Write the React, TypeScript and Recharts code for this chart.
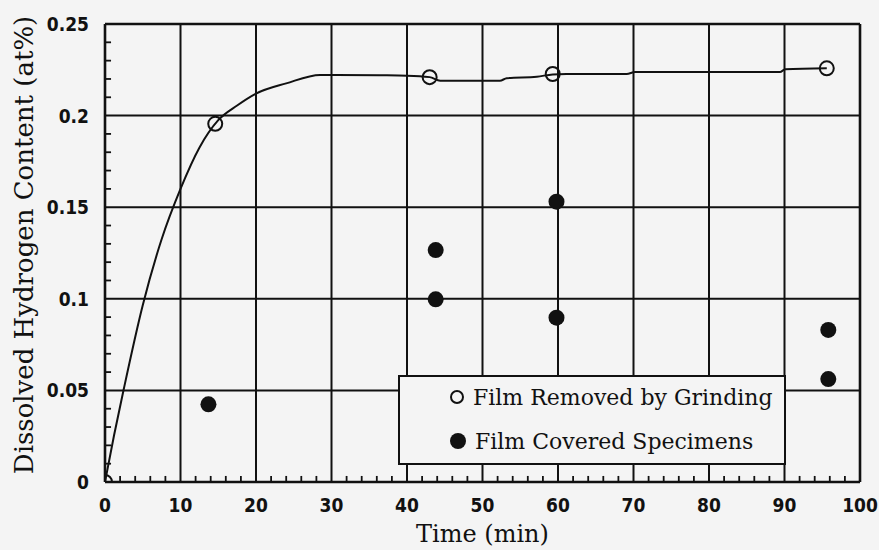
import { ComposedChart, Label, Legend, Line, ReferenceLine, Scatter, XAxis, YAxis } from "recharts"

// fitted curve through the "film removed" points
const curveTime = [0, 1.2, 2.5, 5, 7.5, 10, 12.5, 15, 17.5, 20, 24, 28.5, 36.4, 40, 43, 44.4, 52.3, 53.2, 57.2, 59.3, 61.1, 69.1, 70.2, 89.4, 90.1, 95.6]
const curveH = [0, 0.0255, 0.051, 0.0965, 0.1325, 0.16, 0.1825, 0.1975, 0.2055, 0.212, 0.2176, 0.2222, 0.222, 0.2218, 0.221, 0.219, 0.219, 0.2204, 0.2212, 0.2225, 0.2227, 0.2227, 0.2238, 0.2238, 0.2253, 0.2258]

const removedTime = [0, 14.6, 43, 59.3, 95.6]
const removedH = [0, 0.1955, 0.221, 0.2227, 0.2258]

const coveredTime = [13.7, 43.8, 43.8, 59.8, 59.8, 95.8, 95.8]
const coveredH = [0.0424, 0.1266, 0.0997, 0.153, 0.0897, 0.083, 0.0562]

const xMajor = [0, 10, 20, 30, 40, 50, 60, 70, 80, 90, 100]
const yMajor = [0, 0.05, 0.1, 0.15, 0.2, 0.25]

// minor ticks: every 2 min, every 0.01 at%
const xMinor = xMajor.slice(0, -1).flatMap((v) => [v + 2, v + 4, v + 6, v + 8])
const yMinor = Array.from({ length: 26 }, (_, i) => i / 100).filter((_, i) => i % 5 !== 0)

const curve = curveTime.map((x, i) => ({ x, y: curveH[i] }))
const removed = removedTime.map((x, i) => ({ x, y: removedH[i] }))
const covered = coveredTime.map((x, i) => ({ x, y: coveredH[i] }))

const INK = "#111"
const BG = "#f4f4f4"
const TICK_FONT = "'DejaVu Sans Condensed', 'DejaVu Sans', sans-serif"
const SERIF = "'DejaVu Serif', serif"
// minor tick length in data units (~6px)
const X_TICK_LEN = 0.0033
const Y_TICK_LEN = 0.8

function XTick({ x, y, payload }: any) {
  return (
    <text x={x} y={y + 30} textAnchor="middle" fontFamily={TICK_FONT} fontWeight="bold" fontSize={19} fill={INK}>
      {payload.value}
    </text>
  )
}

function YTick({ x, y, payload }: any) {
  return (
    <text x={x - 16} y={y + 7} textAnchor="end" fontFamily={TICK_FONT} fontWeight="bold" fontSize={19} fill={INK}>
      {String(payload.value)}
    </text>
  )
}

const openDot = ({ cx, cy }: any) => <circle cx={cx} cy={cy} r={7} fill="none" stroke={INK} strokeWidth={2} />
const fullDot = ({ cx, cy }: any) => <circle cx={cx} cy={cy} r={8} fill={INK} />

function LegendBox() {
  const row = { display: "flex", alignItems: "center", height: 36 }
  const txt = { fontFamily: SERIF, fontSize: 22, color: INK, marginLeft: 8 }
  return (
    <div
      style={{
        boxSizing: "border-box",
        width: 388,
        height: 90,
        border: `2px solid ${INK}`,
        background: BG,
        padding: "2px 0 0 49px",
      }}
    >
      <div style={row}>
        <svg width={16} height={16}>
          <circle cx={8} cy={8} r={6} fill="none" stroke={INK} strokeWidth={2} />
        </svg>
        <span style={txt}>Film Removed by Grinding</span>
      </div>
      <div style={{ ...row, marginTop: 8 }}>
        <svg width={18} height={18}>
          <circle cx={9} cy={9} r={8} fill={INK} />
        </svg>
        <span style={txt}>Film Covered Specimens</span>
      </div>
    </div>
  )
}

export default function App() {
  return (
    <div style={{ position: "fixed", left: 0, top: 0, width: 879, height: 550, background: BG }}>
      <ComposedChart width={879} height={550} margin={{ top: 24, right: 19, bottom: 0, left: 0 }}>
        <XAxis
          type="number"
          dataKey="x"
          domain={[0, 100]}
          ticks={xMajor}
          interval={0}
          tick={(p: any) => <XTick {...p} />}
          tickSize={0}
          tickMargin={0}
          tickLine={false}
          axisLine={false}
          height={68}
          allowDataOverflow
        >
          <Label
            content={({ viewBox }: any) => (
              <text
                x={viewBox.x + viewBox.width / 2}
                y={viewBox.y + 60}
                textAnchor="middle"
                fontFamily={SERIF}
                fontSize={24}
                fill={INK}
              >
                Time (min)
              </text>
            )}
          />
        </XAxis>
        <YAxis
          type="number"
          dataKey="y"
          domain={[0, 0.25]}
          ticks={yMajor}
          interval={0}
          tick={(p: any) => <YTick {...p} />}
          tickSize={0}
          tickMargin={0}
          tickLine={false}
          axisLine={false}
          width={105}
          allowDataOverflow
        >
          <Label
            content={({ viewBox }: any) => {
              const cx = viewBox.x + 33
              const cy = viewBox.y + 221
              return (
                <text
                  x={cx}
                  y={cy}
                  transform={`rotate(-90, ${cx}, ${cy})`}
                  textAnchor="middle"
                  fontFamily={SERIF}
                  fontSize={26}
                  fill={INK}
                >
                  Dissolved Hydrogen Content (at%)
                </text>
              )
            }}
          />
        </YAxis>
        {xMajor.map((v) => (
          <ReferenceLine key={`gx${v}`} x={v} stroke={INK} strokeWidth={v === 0 || v === 100 ? 2.6 : 2} />
        ))}
        {yMajor.map((v) => (
          <ReferenceLine key={`gy${v}`} y={v} stroke={INK} strokeWidth={v === 0 || v === 0.25 ? 2.6 : 2} />
        ))}
        {xMinor.map((v) => (
          <ReferenceLine
            key={`mx${v}`}
            segment={[
              { x: v, y: 0 },
              { x: v, y: X_TICK_LEN },
            ]}
            stroke={INK}
            strokeWidth={1.8}
          />
        ))}
        {yMinor.map((v) => (
          <ReferenceLine
            key={`my${v}`}
            segment={[
              { x: 0, y: v },
              { x: Y_TICK_LEN, y: v },
            ]}
            stroke={INK}
            strokeWidth={1.8}
          />
        ))}
        <Line
          data={curve}
          dataKey="y"
          type="monotone"
          stroke={INK}
          strokeWidth={2}
          dot={false}
          activeDot={false}
          isAnimationActive={false}
          legendType="none"
        />
        <Scatter name="Film Removed by Grinding" data={removed} shape={openDot} isAnimationActive={false} />
        <Scatter name="Film Covered Specimens" data={covered} shape={fullDot} isAnimationActive={false} />
        <Legend
          layout="horizontal"
          verticalAlign="middle"
          align="center"
          content={() => <LegendBox />}
          wrapperStyle={{ position: "absolute", left: 398, top: 375, width: 388, height: 90 }}
        />
      </ComposedChart>
    </div>
  )
}
